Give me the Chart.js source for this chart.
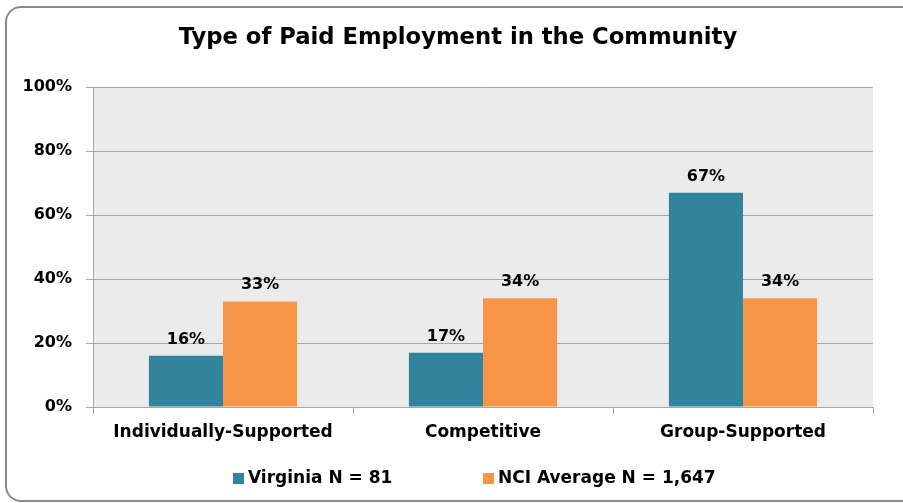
<!DOCTYPE html>
<html>
<head>
<meta charset="utf-8">
<script src="https://cdn.jsdelivr.net/npm/chart.js@4/dist/chart.umd.min.js"></script>
<style>
  html, body { margin: 0; padding: 0; background: #fff; overflow: hidden; }
  #wrap { position: relative; width: 903px; height: 503px; }
  #frame { position: absolute; left: 5px; top: 6px; width: 920px; height: 492px;
           border: 2px solid #8a8a8a; border-radius: 16px; box-sizing: content-box; }
  canvas { position: absolute; left: 0; top: 0; }
</style>
</head>
<body>
<div id="wrap">
  <div id="frame"></div>
  <canvas id="c" width="903" height="503"></canvas>
</div>
<script>
const title = 'Type of Paid Employment in the Community';
const categories = ['Individually-Supported', 'Competitive', 'Group-Supported'];
const seriesNames = ['Virginia N = 81', 'NCI Average N = 1,647'];
const virginia = [16, 17, 67];
const nciAverage = [33, 34, 34];
const yTicks = [0, 20, 40, 60, 80, 100];
const colors = ['#31849B', '#F79646'];

const FONT = '"DejaVu Sans", Verdana, sans-serif';

const plotBg = {
  id: 'plotBg',
  afterLayout(chart) {
    if (chart.titleBlock) { chart.titleBlock.left = 43; }
  },
  beforeDraw(chart) {
    const {ctx, chartArea: a} = chart;
    ctx.save();
    ctx.fillStyle = '#EBEBEB';
    ctx.fillRect(a.left, a.top, a.right - a.left, a.bottom - a.top);
    ctx.restore();
  }
};

const valueLabels = {
  id: 'valueLabels',
  afterDatasetsDraw(chart) {
    const {ctx} = chart;
    ctx.save();
    ctx.font = 'bold 16px ' + FONT;
    ctx.fillStyle = '#000';
    ctx.textAlign = 'center';
    ctx.textBaseline = 'alphabetic';
    chart.data.datasets.forEach((ds, di) => {
      chart.getDatasetMeta(di).data.forEach((bar, i) => {
        ctx.fillText(ds.data[i] + '%', bar.x, bar.y - 12);
      });
    });
    ctx.restore();
  }
};

const customLegend = {
  id: 'customLegend',
  afterDraw(chart) {
    const {ctx} = chart;
    ctx.save();
    ctx.font = 'bold 17px ' + FONT;
    ctx.textBaseline = 'middle';
    ctx.textAlign = 'left';
    const y = 478;
    const starts = [233, 483];
    chart.data.datasets.forEach((ds, di) => {
      const x = starts[di];
      ctx.fillStyle = ds.backgroundColor;
      ctx.fillRect(x, y - 5, 11, 11);
      ctx.fillStyle = '#000';
      ctx.fillText(ds.label, x + 15, y + 1);
    });
    ctx.restore();
  }
};

new Chart(document.getElementById('c'), {
  type: 'bar',
  data: {
    labels: categories,
    datasets: [
      { label: seriesNames[0], data: virginia, backgroundColor: colors[0] },
      { label: seriesNames[1], data: nciAverage, backgroundColor: colors[1] }
    ]
  },
  options: {
    responsive: false,
    animation: false,
    devicePixelRatio: 1,
    layout: { padding: { left: 0, right: 30, top: 0, bottom: 46 } },
    datasets: { bar: { categoryPercentage: 0.57, barPercentage: 1.0 } },
    plugins: {
      legend: { display: false },
      tooltip: { enabled: false },
      title: {
        display: true,
        text: title,
        color: '#000',
        font: { family: FONT, size: 22.7, weight: 'bold' },
        padding: { top: 24, bottom: 36 }
      }
    },
    scales: {
      x: {
        afterFit(s) { s.height = 50; },
        grid: { display: true, drawOnChartArea: false, drawTicks: true, tickLength: 7, color: '#A6A6A6', offset: true },
        border: { display: true, color: '#A6A6A6' },
        ticks: { color: '#000', font: { family: FONT, size: 17, weight: 'bold' }, padding: 8 }
      },
      y: {
        min: 0, max: 100,
        afterFit(s) { s.width = 93; },
        afterBuildTicks(s) { s.ticks = yTicks.map(v => ({ value: v })); },
        grid: { color: '#A6A6A6', tickLength: 7 },
        border: { display: true, color: '#A6A6A6' },
        ticks: { color: '#000', font: { family: FONT, size: 16, weight: 'bold' }, padding: 14,
                 callback: v => v + '%' }
      }
    }
  },
  plugins: [plotBg, valueLabels, customLegend]
});
</script>
</body>
</html>
